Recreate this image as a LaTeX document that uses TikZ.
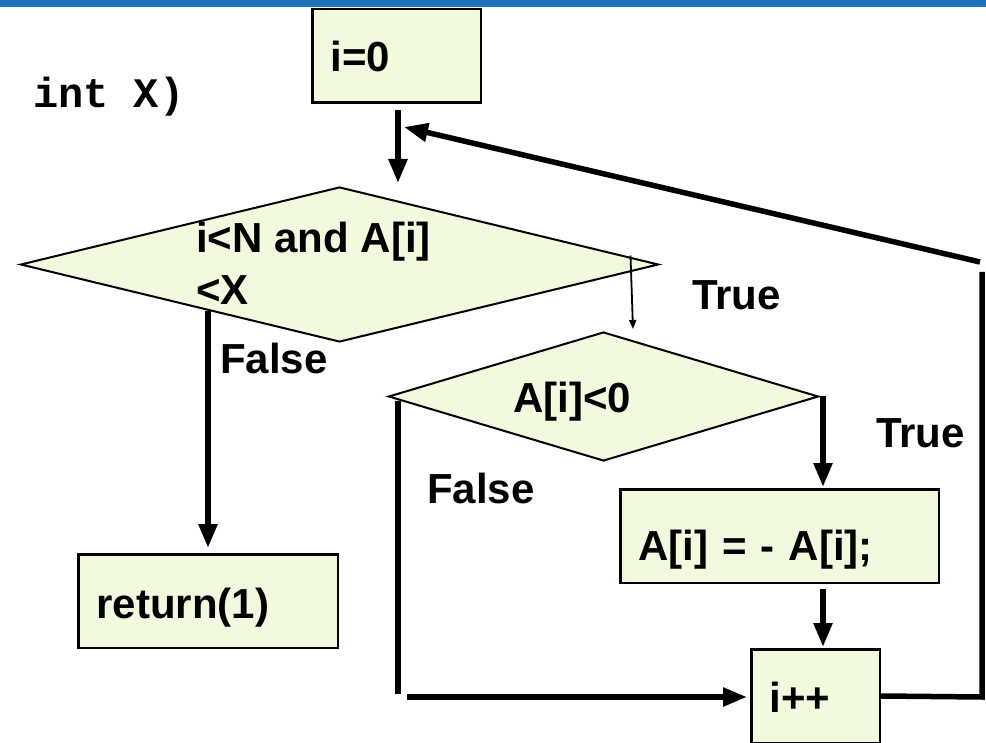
\documentclass[tikz,border=0pt]{standalone}
\usepackage{fontspec}
\setmainfont{Liberation Sans}
\newfontfamily\codefont{Liberation Mono}
\usetikzlibrary{shapes.geometric,arrows.meta}
\definecolor{boxfill}{RGB}{241,250,222}
\definecolor{topbar}{RGB}{31,114,186}
\begin{document}
\begin{tikzpicture}[x=1pt,y=-1pt,
  every node/.style={font=\fontsize{42}{52}\selectfont\bfseries},
  procbox/.style={draw=black, line width=2.5pt, fill=boxfill, rectangle,
    inner xsep=18pt, inner ysep=0pt, align=left, anchor=north west, text depth=0pt},
  decision/.style={draw=black, line width=2pt, fill=boxfill, diamond, inner sep=0pt},
  flow/.style={line width=5.5pt, -{Triangle[length=24pt,width=18pt]}},
  plainline/.style={line width=5.5pt},
  thinflow/.style={line width=1.8pt, -{Triangle[length=9pt,width=7pt]}},
  lbl/.style={anchor=base west, inner sep=0pt}]
\clip (0,0) rectangle (986,743);
\fill[topbar] (0,0) rectangle (986,7);

% code fragment
\node[lbl, font=\codefont\fontsize{42}{52}\selectfont\bfseries] (code) at (33,108) {int X)};

% boxes
\node[procbox, minimum width=168.5pt, minimum height=93.5pt, text width=132pt, text height=32pt] (i0) at (311,8) {i=0};
\node[procbox, minimum width=259.5pt, minimum height=93.5pt, text width=223pt, text height=34pt] (ret) at (77,553) {return(1)};
\node[procbox, minimum width=318.5pt, minimum height=93.5pt, text width=282pt, text height=48pt] (neg) at (619,488) {A[i] = - A[i];};
\node[procbox, minimum width=128.5pt, minimum height=93.5pt, text width=92pt, text height=32pt] (ipp) at (750,648) {i++};

% decisions
\node[decision, minimum width=638pt, minimum height=155pt] (d1) at (339.5,264.5) {};
\node[lbl, align=left] (d1t) at (196,305) {i<N and A[i]\\<X};
\node[decision, minimum width=430pt, minimum height=129pt] (d2) at (603.5,396.5) {};
\node[lbl] (d2t) at (513,413) {A[i]<0};

% labels
\node[lbl] (t1) at (692,310) {True};
\node[lbl] (f1) at (220,374) {False};
\node[lbl] (f2) at (427,503) {False};
\node[lbl] (t2) at (876,447) {True};

% coordinates
\coordinate (j1) at (398,183);
\coordinate (c1) at (982,697);
\coordinate (c2) at (982,272);
\coordinate (c3) at (980,262);
\coordinate (c4) at (404,127);
\coordinate (fa) at (208,311);
\coordinate (ga) at (398,401);
\coordinate (gb) at (398,694);
\coordinate (gc) at (407,697);
\coordinate (col) at (823,0);

% connectors
\draw[flow] ([xshift=1.5pt,yshift=-6pt]i0.south) -- (j1);
\draw[plainline] (ipp.east) -- (c1) -- (c2);
\draw[flow] (c3) -- (c4);
\draw[thinflow] ([xshift=-29pt,yshift=9pt]d1.east) -- ([xshift=29.5pt,yshift=2pt]d2.north);
\draw[flow, shorten >=5pt] (fa) -- (fa |- ret.north);
\draw[flow, shorten >=1pt] (col |- d2.east) -- (col |- neg.north);
\draw[flow, shorten <=5pt, shorten >=1pt] (col |- neg.south) -- (col |- ipp.north);
\draw[plainline] (ga) -- (gb);
\draw[flow, shorten >=3pt] (gc) -- (gc -| ipp.west);
\end{tikzpicture}
\end{document}
